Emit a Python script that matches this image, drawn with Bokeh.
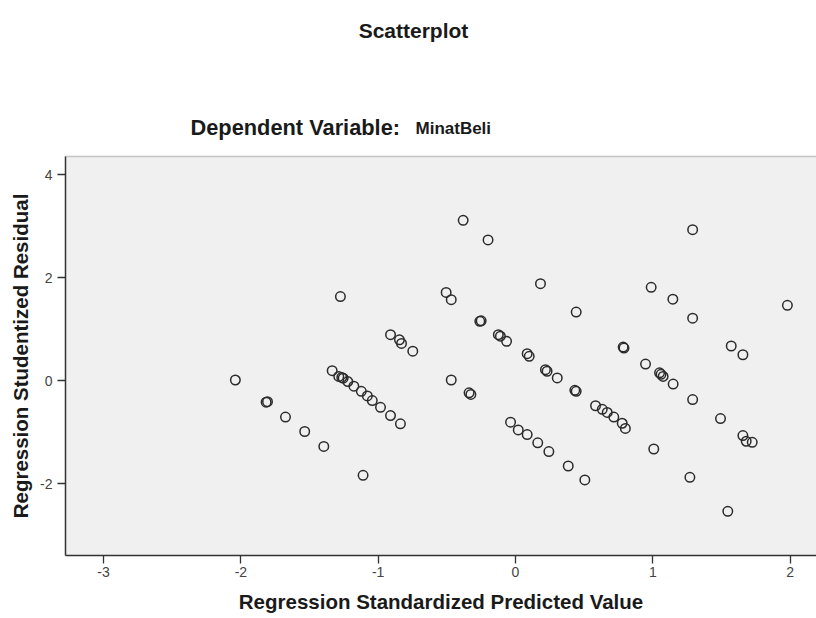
from bokeh.plotting import figure
from bokeh.models import Range1d, FixedTicker, LinearAxis, ColumnDataSource
from bokeh.layouts import column
from bokeh.core.properties import value
from bokeh.embed import file_html
from bokeh.resources import INLINE

# ---- data ----
pred_std = [
    -0.381, -0.200, -1.275, -0.505, -0.468, -0.260, -0.250,
    -0.910, -0.845, -0.830, -0.748, -2.040,
    -1.335, -1.287, -1.265, -1.255, -1.221, -1.177, -1.123, -1.079, -1.043, -0.983, -0.910, -0.838,
    -1.816, -1.806, -1.675, -1.535, -1.396, -1.110, -0.468, -0.338, -0.325,
    1.290, 0.182, 0.988, 1.146, 1.290, 1.980, 0.442,
    -0.125, -0.110, -0.065, 0.085, 0.100, 0.218, 0.230, 0.304, 0.432, 0.442,
    0.583, 0.632, 0.668, 0.716, 0.777, 0.800,
    0.784, 0.790, 0.947, 1.049, 1.060, 1.075, 1.148, 1.290,
    1.571, 1.656, 1.493, 1.656, 1.680, 1.724,
    -0.036, 0.020, 0.085, 0.162, 0.243, 0.384, 0.505,
    1.007, 1.270, 1.546,
]
stud_resid = [
    3.11, 2.73, 1.63, 1.71, 1.57, 1.15, 1.16,
    0.89, 0.79, 0.72, 0.57, 0.01,
    0.19, 0.08, 0.06, 0.045, -0.02, -0.11, -0.21, -0.30, -0.39, -0.52, -0.68, -0.84,
    -0.42, -0.41, -0.71, -0.99, -1.28, -1.84, 0.01, -0.24, -0.27,
    2.93, 1.88, 1.81, 1.58, 1.21, 1.46, 1.33,
    0.89, 0.86, 0.76, 0.52, 0.47, 0.21, 0.18, 0.05, -0.19, -0.21,
    -0.49, -0.56, -0.62, -0.71, -0.83, -0.93,
    0.65, 0.63, 0.32, 0.15, 0.12, 0.08, -0.07, -0.37,
    0.67, 0.50, -0.74, -1.07, -1.18, -1.20,
    -0.81, -0.96, -1.05, -1.21, -1.38, -1.66, -1.93,
    -1.33, -1.88, -2.54,
]

x_ticks = [-3, -2, -1, 0, 1, 2]
x_tick_labels = ["-3", "-2", "-1", "0", "1", "2"]
y_ticks = [-2, 0, 2, 4]
y_tick_labels = ["-2", "0", "2", "4"]

title_text = "Scatterplot"
subtitle_text = "Dependent Variable:"
subtitle_var = "MinatBeli"
x_label_text = "Regression Standardized Predicted Value"
y_label_text = "Regression Studentized Residual"

FONT = "Liberation Sans"
INK = "#1a1a1a"
W = 816
LEFT = 65

# ---- header area (titles); its frame is aligned with the plot frame ----
head = figure(width=W, height=150, x_range=Range1d(LEFT, W), y_range=Range1d(150, 0),
              x_axis_type=None, y_axis_type=None, output_backend="svg",
              toolbar_location=None, min_border_left=LEFT, min_border_right=0,
              min_border_top=0, min_border_bottom=0, outline_line_color=None,
              background_fill_color="white", border_fill_color="white")
head.xgrid.visible = False
head.ygrid.visible = False
head.text(x=[413], y=[30], text=[title_text], text_font=value(FONT),
          text_font_style="bold", text_font_size="21px", text_color=INK,
          text_align="center", text_baseline="alphabetic")
head.text(x=[190], y=[127], text=[subtitle_text], text_font=value(FONT),
          text_font_style="bold", text_font_size="21.8px", text_color=INK,
          text_align="left", text_baseline="alphabetic")
head.text(x=[415], y=[128], text=[subtitle_var], text_font=value(FONT),
          text_font_style="bold", text_font_size="17px", text_color=INK,
          text_align="left", text_baseline="alphabetic")

# ---- main scatter ----
p = figure(
    width=W, height=468,
    x_range=Range1d(-3.277, 2.192),
    y_range=Range1d(-3.398, 4.35),
    output_backend="svg", toolbar_location=None,
    min_border_left=LEFT, min_border_right=0,
    min_border_top=6, min_border_bottom=63,
    background_fill_color="#f0f0f0", border_fill_color="white",
    outline_line_color=None,
)
p.xgrid.visible = False
p.ygrid.visible = False

for ax, ticks, labels in ((p.xaxis[0], x_ticks, x_tick_labels), (p.yaxis[0], y_ticks, y_tick_labels)):
    ax.ticker = FixedTicker(ticks=ticks)
    ax.major_label_overrides = {t: l for t, l in zip(ticks, labels)}
    ax.minor_tick_line_color = None
    ax.major_tick_in = 0
    ax.major_tick_out = 8
    ax.major_tick_line_color = "#333333"
    ax.major_tick_line_width = 1.3
    ax.axis_line_color = "#333333"
    ax.axis_line_width = 1.5
    ax.major_label_text_font = FONT
    ax.major_label_text_font_size = "14px"
    ax.major_label_text_color = "#444444"
    ax.major_label_standoff = 3
    ax.axis_label_text_font = FONT
    ax.axis_label_text_font_style = "bold"
    ax.axis_label_text_font_size = "20.5px"
    ax.axis_label_text_color = INK

p.yaxis[0].major_label_standoff = 5
p.xaxis[0].axis_label = x_label_text
p.xaxis[0].axis_label_standoff = 10
p.yaxis[0].axis_label = y_label_text
p.yaxis[0].axis_label_standoff = 5

# light top border of the plot area
top = LinearAxis(ticker=FixedTicker(ticks=[]), axis_line_color="#c4c4c4", axis_line_width=1.5,
                 major_tick_line_color=None, minor_tick_line_color=None,
                 major_tick_out=0, major_tick_in=0, major_label_standoff=0,
                 axis_label_standoff=0, major_label_text_color=None)
p.add_layout(top, "above")

src = ColumnDataSource(data=dict(x=pred_std, y=stud_resid))
p.scatter("x", "y", source=src, marker="circle", size=9.5,
          fill_color=None, line_color="#2b2b2b", line_width=1.5)

layout = column(head, p, spacing=0)
open("out.html", "w").write(file_html(layout, INLINE))
